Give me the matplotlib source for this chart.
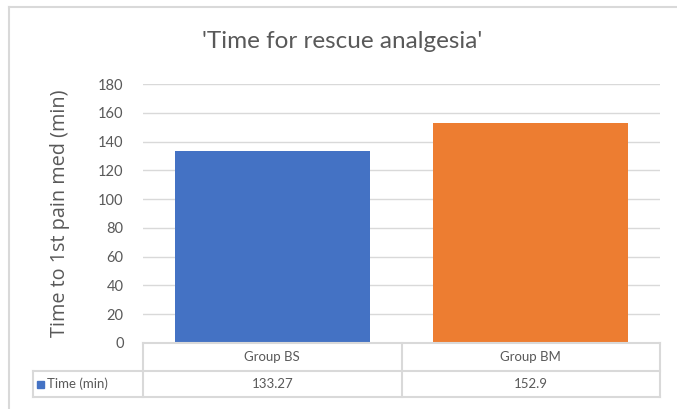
import matplotlib.pyplot as plt
from matplotlib.lines import Line2D
from matplotlib.patches import Rectangle

# data
groups = ["Group BS", "Group BM"]
times = [133.27, 152.9]
table_values = ["133.27", "152.9"]
series_name = "Time (min)"
bar_colors = ["#4472C4", "#ED7D31"]
yticks = [0, 20, 40, 60, 80, 100, 120, 140, 160, 180]

W, H = 677, 409
grey = "#595959"
line_c = "#D9D9D9"

plt.rcParams['font.family'] = ['Lato', 'DejaVu Sans']

fig = plt.figure(figsize=(W / 100, H / 100), dpi=100)


def fx(px):
    return px / W


def fy(py):
    return 1 - py / H


# outer chart frame (top and left edge visible)
fig.add_artist(Line2D([fx(9), fx(9)], [fy(7), fy(409)], color=line_c, lw=1.5))
fig.add_artist(Line2D([fx(9), fx(677)], [fy(7), fy(7)], color=line_c, lw=1.5))

x0, x1, y0, y1 = 143, 660, 343, 84
ax = fig.add_axes([fx(x0), fy(y0), fx(x1 - x0), (y0 - y1) / H])
xs = list(range(len(groups)))
ax.bar(xs, times, width=0.755, color=bar_colors, zorder=3)
ax.set_xlim(-0.5, len(groups) - 0.5)
ax.set_ylim(0, 180)
ax.set_yticks(yticks)
ax.set_xticks([])
ax.yaxis.grid(True, color=line_c, lw=1)
ax.tick_params(axis='y', length=0, pad=14, labelsize=10.5, labelcolor=grey)
for s in ax.spines.values():
    s.set_visible(False)
ax.set_ylabel("Time to 1st pain med (min)", fontsize=14.3, color=grey,
              family=['Open Sans', 'DejaVu Sans'], labelpad=20)

ax.set_title("'Time for rescue analgesia'", fontsize=17.5, color=grey,
             x=(342 - x0) / (x1 - x0), y=1.0, pad=26)

# data table under the plot
col_edges = [x0 + (x1 - x0) * i / len(groups) for i in range(len(groups) + 1)]
r0, r1, r2 = 343, 371, 397
lab_x = 33
lines = [
    ([x0, x1], [r0, r0]),
    ([lab_x, x1], [r1, r1]),
    ([lab_x, x1], [r2, r2]),
    ([lab_x, lab_x], [r1, r2]),
]
for cx in col_edges:
    lines.append(([cx, cx], [r0, r2]))
for lx, ly in lines:
    fig.add_artist(Line2D([fx(v) for v in lx], [fy(v) for v in ly],
                          color=line_c, lw=1.5))

for i, g in enumerate(groups):
    cx = (col_edges[i] + col_edges[i + 1]) / 2
    fig.text(fx(cx), fy((r0 + r1) / 2), g, ha='center', va='center',
             fontsize=9.5, color=grey)
    fig.text(fx(cx), fy((r1 + r2) / 2), table_values[i], ha='center',
             va='center', fontsize=9.5, color=grey)

fig.add_artist(Rectangle((fx(37), fy(388)), fx(7), 7 / H, color=bar_colors[0]))
fig.text(fx(47), fy((r1 + r2) / 2), series_name, ha='left', va='center',
         fontsize=9.5, color=grey)

fig.savefig("out.png", dpi=100)
